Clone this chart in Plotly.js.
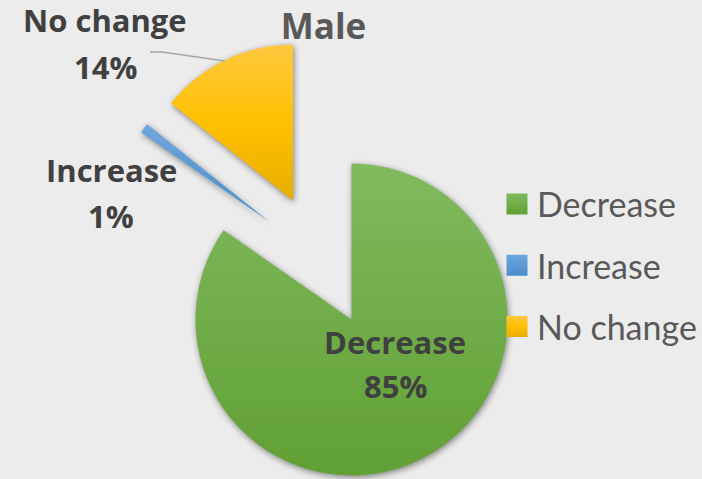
<!DOCTYPE html>
<html><head><meta charset="utf-8">
<script src="https://cdn.plot.ly/plotly-3.0.1.min.js"></script>
<style>
html,body{margin:0;padding:0;background:#ececec;overflow:hidden;}
#chart{width:702px;height:479px;}
.pielayer path.surface{filter:drop-shadow(1px 2px 3px rgba(0,0,0,0.45));}
.legendpie{d:path("M10.5,10.5H-10.5V-10.5H10.5Z");}
path[style*="112, 173, 71"]{fill:url(#gGreen) !important;}
path[style*="91, 155, 213"]{fill:url(#gBlue) !important;}
path[style*="255, 192, 0"]{fill:url(#gGold) !important;}
</style></head>
<body>
<svg width="0" height="0" style="position:absolute"><defs>
<linearGradient id="gGreen" x1="0" y1="0" x2="0" y2="1"><stop offset="0" stop-color="#80ba5e"/><stop offset="1" stop-color="#61a034"/></linearGradient>
<linearGradient id="gBlue" x1="0" y1="0" x2="0" y2="1"><stop offset="0" stop-color="#6ea7dc"/><stop offset="1" stop-color="#4a8dcb"/></linearGradient>
<linearGradient id="gGold" x1="0" y1="0" x2="0" y2="1"><stop offset="0" stop-color="#ffc840"/><stop offset="0.5" stop-color="#ffc000"/><stop offset="1" stop-color="#e8ae00"/></linearGradient>
</defs></svg>
<div id="chart"></div>
<script>
// ---- data ----
const labels = ['Decrease', 'Increase', 'No change'];
const values = [84.7, 1.0, 14.3];
const colors = ['#70AD47', '#5B9BD5', '#FFC000'];
const chartTitle = 'Male';

// ---- layout constants (pixels) ----
const W = 702, H = 479, R = 156;
const sliceCenters = [[351.5, 319.5], [269, 221.5], [293, 200.5]];
const labelPos = [[395, 342, 386], [111, 170, 216], [105, 20, 67]];
const font = 'Open Sans, sans-serif';
const legendFont = 'Lato, sans-serif';

function domainFor(cx, cy, r) {
  return {x: [(cx - r) / W, (cx + r) / W], y: [1 - (cy + r) / H, 1 - (cy - r) / H]};
}
const px = (x) => x / W, py = (y) => 1 - y / H;

const data = [];
// legend entries (tiny pies hidden under the big slice)
labels.forEach((lab, i) => {
  data.push({
    type: 'pie', labels: [lab], values: [values[i]], sort: false,
    marker: {colors: [colors[i]], line: {width: 0}},
    textinfo: 'none', hoverinfo: 'skip', showlegend: true, legendgroup: 'g' + i,
    domain: domainFor(430, 410, 0.5)
  });
});
// one trace per exploded slice, same values so geometry is shared
[0, 1, 2].forEach((k) => {
  data.push({
    type: 'pie', labels: labels, values: values, sort: false,
    direction: 'clockwise', rotation: 0,
    marker: {colors: colors.map((c, j) => j === k ? c : 'rgba(0,0,0,0)'), line: {width: 0}},
    textinfo: 'none', hoverinfo: 'label+percent', showlegend: false,
    domain: domainFor(sliceCenters[k][0], sliceCenters[k][1], R)
  });
});

const annotations = [];
labels.forEach((lab, i) => {
  const pct = Math.round(values[i]) + '%';
  [lab, pct].forEach((t, j) => {
    annotations.push({
      xref: 'paper', yref: 'paper', x: px(labelPos[i][0]), y: py(labelPos[i][1 + j]),
      xanchor: 'center', yanchor: 'middle', showarrow: false, text: t,
      font: {family: font, size: 31, color: '#404040', weight: 'bold'}
    });
  });
});

const layout = {
  width: W, height: H,
  margin: {l: 0, r: 0, t: 0, b: 0},
  paper_bgcolor: '#ececec', plot_bgcolor: '#ececec',
  title: {text: chartTitle, x: px(323.5), xanchor: 'center', y: py(27), yanchor: 'middle',
          font: {family: font, size: 35, color: '#595959', weight: 'bold'}},
  legend: {x: px(497), y: py(175.5), xanchor: 'left', yanchor: 'top',
           font: {family: legendFont, size: 34, color: '#595959'},
           traceorder: 'grouped', tracegroupgap: 14, bgcolor: 'rgba(0,0,0,0)'},
  annotations: annotations,
  shapes: [{type: 'path', xref: 'paper', yref: 'paper',
            path: 'M' + px(150) + ',' + py(52) + ' L' + px(162) + ',' + py(52) + ' L' + px(225) + ',' + py(61),
            line: {color: '#a6a6a6', width: 1.5}}]
};

Plotly.newPlot('chart', data, layout, {displayModeBar: false, staticPlot: true});
</script>
</body></html>
